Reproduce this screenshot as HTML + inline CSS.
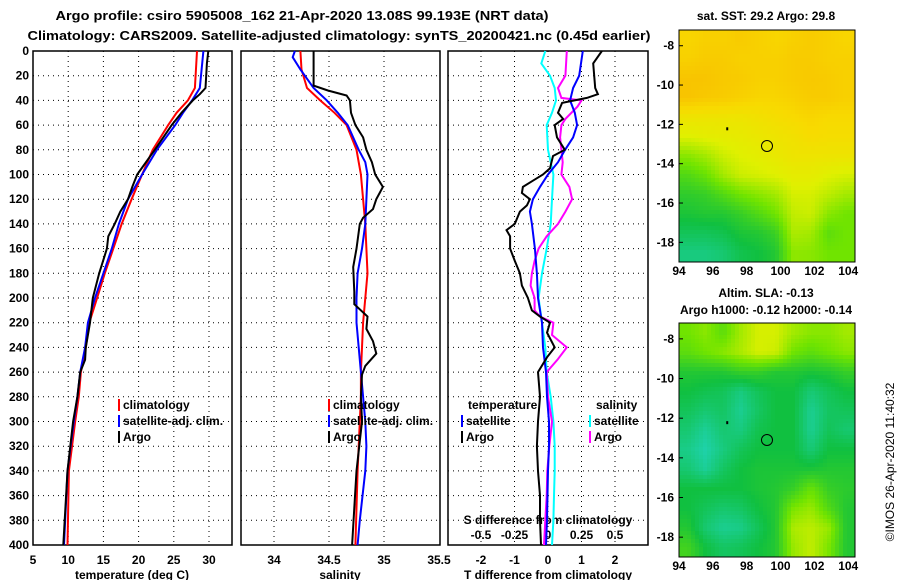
<!DOCTYPE html>
<html><head><meta charset="utf-8"><style>
html,body{margin:0;padding:0;background:#fff;}
svg{display:block;font-family:"Liberation Sans",sans-serif;font-weight:bold;}
</style></head><body>
<svg id="fig" width="900" height="580" viewBox="0 0 900 580" xmlns="http://www.w3.org/2000/svg">
<text x="302" y="20" font-size="13" text-anchor="middle" textLength="493" lengthAdjust="spacingAndGlyphs">Argo profile: csiro 5905008_162 21-Apr-2020 13.08S 99.193E (NRT data)</text>
<text x="339" y="40" font-size="13" text-anchor="middle" textLength="623" lengthAdjust="spacingAndGlyphs">Climatology: CARS2009. Satellite-adjusted climatology: synTS_20200421.nc (0.45d earlier)</text>
<g id="g"></g>
<text x="766" y="20" font-size="12" text-anchor="middle">sat. SST: 29.2 Argo: 29.8</text>
<text x="766" y="297" font-size="12" text-anchor="middle">Altim. SLA: -0.13</text>
<text x="766" y="314" font-size="12" text-anchor="middle">Argo h1000: -0.12 h2000: -0.14</text>
<text transform="translate(894,462) rotate(-90)" font-size="12" font-weight="normal" text-anchor="middle">©IMOS 26-Apr-2020 11:40:32</text>
</svg>
<script>
// ---- data ----
const depthTicks=[0,20,40,60,80,100,120,140,160,180,200,220,240,260,280,300,320,340,360,380,400];
const tempTicks=[5,10,15,20,25,30];
const salTicks=[34,34.5,35,35.5];
const salTickLabels=["34","34.5","35","35.5"];
const dtTicks=[-2,-1,0,1,2];
const dsTicks=[-0.5,-0.25,0,0.25,0.5];
const dsTickLabels=["-0.5","-0.25","0","0.25","0.5"];

const tClimDepth=[0,30,40,50,60,80,100,120,140,160,180,200,220,240,260,280,300,340,400];
const tClim=[28.3,28.0,27.0,25.4,24.2,22.0,20.5,19.0,17.6,16.4,15.2,14.1,13.0,12.5,11.8,11.5,11.0,10.1,9.9];
const tSatDepth=[0,30,40,50,60,80,100,120,140,160,180,200,220,240,260,280,300,340,400];
const tSat=[29.2,28.7,27.6,26.3,25.2,22.6,20.5,18.5,17.2,16.2,15.0,13.8,12.8,12.4,11.7,11.3,10.8,9.9,9.4];
const tArgoDepth=[0,10,30,35,40,50,60,80,100,110,120,130,140,150,160,180,200,220,240,250,260,280,300,340,400];
const tArgo=[29.9,29.7,29.5,28.7,27.7,26.1,24.7,22.3,19.8,19.1,18.5,17.4,16.6,15.7,15.5,14.4,13.5,13.1,12.5,12.4,11.7,11.3,10.7,9.9,9.3];

const sClimDepth=[0,15,30,40,50,60,80,100,120,140,160,180,200,220,240,260,280,300,340,400];
const sClim=[34.24,34.25,34.30,34.42,34.55,34.66,34.75,34.79,34.81,34.83,34.84,34.85,34.83,34.81,34.80,34.79,34.79,34.78,34.76,34.74];
const sSatDepth=[0,5,15,30,40,50,60,80,90,100,120,140,160,180,200,220,240,260,280,300,320,340,380,400];
const sSat=[34.19,34.17,34.24,34.36,34.48,34.58,34.67,34.77,34.83,34.85,34.84,34.83,34.80,34.76,34.75,34.75,34.77,34.79,34.81,34.83,34.84,34.83,34.78,34.76];
const sArgoDepth=[0,28,32,36,40,50,60,70,80,90,100,110,120,128,135,140,160,175,195,205,215,225,235,245,255,262,280,300,340,400];
const sArgo=[34.36,34.36,34.49,34.66,34.69,34.70,34.74,34.81,34.84,34.89,34.92,34.99,34.93,34.90,34.81,34.78,34.75,34.72,34.73,34.73,34.85,34.84,34.90,34.93,34.83,34.80,34.79,34.80,34.75,34.71];

const dsSatDepth=[0,10,20,30,40,50,60,80,100,120,140,160,180,200,220,240,260,280,300,320,340,360,380,400];
const dsSat=[-0.02,-0.05,0.015,0.05,0.06,0.03,-0.01,0.0,0.04,0.03,0.02,-0.01,-0.045,-0.07,-0.045,-0.02,-0.01,0.02,0.04,0.05,0.05,0.045,0.04,0.03];
const dsArgoDepth=[0,20,30,38,40,45,55,60,70,80,90,100,110,120,130,140,150,160,170,180,190,200,210,215,220,230,240,250,260,280,300,320,340,360,380,400];
const dsArgo=[0.14,0.13,0.075,0.1,0.25,0.22,0.13,0.1,0.09,0.1,0.11,0.1,0.16,0.18,0.13,0.075,-0.01,-0.07,-0.1,-0.12,-0.13,-0.1,-0.1,-0.06,0.04,0.03,0.14,0.07,-0.01,0.0,0.03,0.01,-0.005,-0.01,-0.02,-0.03];
const dtSatDepth=[0,20,30,40,50,60,70,80,90,100,110,120,130,140,160,180,200,220,240,260,280,300,320,340,380,400];
const dtSat=[1.04,0.93,0.75,0.66,0.8,0.87,0.75,0.51,0.3,0.0,-0.24,-0.45,-0.54,-0.48,-0.39,-0.33,-0.3,-0.18,-0.15,-0.06,-0.03,0.03,0.03,0.0,-0.03,-0.06];
const dtArgoDepth=[0,10,20,30,35,38,42,50,55,60,70,80,85,95,100,105,110,115,120,125,130,140,145,150,160,170,180,190,200,210,215,220,228,240,248,260,280,300,320,340,360,380,400];
const dtArgo=[1.61,1.35,1.38,1.41,1.49,1.16,0.42,0.3,0.45,0.2,0.27,0.5,0.15,0.06,-0.15,-0.45,-0.75,-0.78,-0.54,-0.63,-0.84,-0.99,-1.24,-1.13,-1.13,-0.99,-0.84,-0.78,-0.6,-0.48,-0.24,0.06,-0.03,0.2,-0.03,-0.3,-0.24,-0.3,-0.33,-0.3,-0.24,-0.24,-0.21];

// map grids (rows -7.5..-18.5 lat, cols 94.5..103.9 lon), normalized colour index 0..1
const sstGrid=[
[0.88,0.9,0.9,0.92,0.9,0.88,0.9,0.92,0.9,0.88],
[0.9,0.92,0.92,0.9,0.9,0.9,0.92,0.92,0.9,0.9],
[0.95,0.95,0.93,0.92,0.9,0.9,0.92,0.93,0.92,0.9],
[0.95,0.93,0.92,0.9,0.88,0.88,0.9,0.92,0.92,0.9],
[0.8,0.8,0.8,0.8,0.82,0.84,0.86,0.88,0.86,0.86],
[0.72,0.74,0.75,0.76,0.78,0.8,0.82,0.85,0.84,0.84],
[0.55,0.6,0.68,0.72,0.74,0.77,0.8,0.8,0.8,0.8],
[0.42,0.48,0.6,0.68,0.7,0.72,0.75,0.75,0.72,0.7],
[0.33,0.35,0.42,0.5,0.55,0.6,0.7,0.7,0.65,0.6],
[0.28,0.3,0.3,0.35,0.42,0.5,0.66,0.68,0.55,0.5],
[0.2,0.2,0.22,0.28,0.3,0.36,0.62,0.6,0.45,0.5],
[0.12,0.12,0.15,0.22,0.25,0.3,0.56,0.55,0.5,0.5]];
const slaGrid=[
[0.5,0.55,0.45,0.6,0.7,0.7,0.6,0.55,0.55,0.6],
[0.45,0.5,0.55,0.62,0.7,0.68,0.5,0.45,0.5,0.55],
[0.3,0.3,0.3,0.35,0.35,0.3,0.3,0.28,0.3,0.35],
[0.25,0.22,0.2,0.12,0.2,0.25,0.25,0.14,0.2,0.25],
[0.2,0.15,0.18,0.08,0.18,0.25,0.25,0.08,0.18,0.2],
[0.15,0.07,0.15,0.12,0.22,0.25,0.25,0.08,0.2,0.15],
[0.1,0.03,0.12,0.2,0.25,0.25,0.25,0.14,0.25,0.25],
[0.15,0.07,0.18,0.25,0.28,0.28,0.28,0.28,0.3,0.3],
[0.25,0.25,0.25,0.25,0.28,0.3,0.35,0.48,0.35,0.32],
[0.25,0.2,0.16,0.18,0.25,0.3,0.52,0.58,0.42,0.3],
[0.3,0.15,0.08,0.1,0.2,0.3,0.62,0.65,0.58,0.3],
[0.38,0.25,0.18,0.2,0.25,0.3,0.58,0.66,0.52,0.3]];
const latTicks=[-8,-10,-12,-14,-16,-18];
const lonTicks=[94,96,98,100,102,104];
const argoPos=[99.2,-13.1];

// ---- drawing ----
const NS="http://www.w3.org/2000/svg";
const G=document.getElementById('g');
function mk(tag,attrs,parent){const e=document.createElementNS(NS,tag);for(const k in attrs)e.setAttribute(k,attrs[k]);(parent||G).appendChild(e);return e;}
const TOP=51,BOT=545;
const yD=d=>TOP+(d/400)*(BOT-TOP);
const xT=v=>33+(v-5)*7.04;
const xS=v=>274+(v-34)*110;
const xDT=v=>548+v*33.5;
const xDS=v=>548+v*134;
const panels=[[33,232],[241,440],[448,648]];

panels.forEach((p,i)=>{
  const r=mk('rect',{x:p[0],y:TOP,width:p[1]-p[0],height:BOT-TOP,fill:'none',stroke:'#000','stroke-width':1.5});
  
  
  depthTicks.forEach(d=>{ if(d===0||d===400)return;
    const l=mk('line',{x1:p[0],x2:p[1],y1:yD(d),y2:yD(d),stroke:'#000','stroke-dasharray':'1 4'});
    
    
  });
});
depthTicks.forEach(d=>{
  const t=mk('text',{x:29,y:yD(d)+4,'font-size':12,'text-anchor':'end'});t.textContent=d;
  
  
});
function vgrid(vals,fx,p,labels,ly,name){
  vals.forEach((v,i)=>{const x=fx(v);
    if(x>p[0]+2&&x<p[1]-2){const l=mk('line',{x1:x,x2:x,y1:TOP,y2:BOT,stroke:'#000','stroke-dasharray':'1 4'});
      
      }
    const t=mk('text',{x:x,y:ly,'font-size':12,'text-anchor':'middle'});t.textContent=labels?labels[i]:v;
    
    
  });
}
vgrid(tempTicks,xT,panels[0],null,564,'temperature');
vgrid(salTicks,xS,panels[1],salTickLabels,564,'salinity');
vgrid(dtTicks,xDT,panels[2],null,564,'t-difference');
dsTicks.forEach((v,i)=>{const t=mk('text',{x:xDS(v),y:539,'font-size':12,'text-anchor':'middle'});t.textContent=dsTickLabels[i];
  
  });
function lbl(x,y,s,name,anchor,fill){const t=mk('text',{x:x,y:y,'font-size':12,'text-anchor':anchor||'start',fill:fill||'#000'});t.textContent=s;
  
  return t;}
lbl(132,579,'temperature (deg C)','temperature-axis-title','middle');
lbl(340,579,'salinity','salinity-axis-title','middle');
lbl(548,579,'T difference from climatology','t-difference-axis-title','middle');
lbl(548,524,'S difference from climatology','s-difference-axis-title','middle');

function series(depths,vals,fx,color,name){
  const pts=depths.map((d,i)=>fx(vals[i]).toFixed(1)+','+yD(d).toFixed(1)).join(' ');
  const pl=mk('polyline',{points:pts,fill:'none',stroke:color,'stroke-width':2,'stroke-linejoin':'miter'});
  
  
}
series(tClimDepth,tClim,xT,'#f00','temperature-climatology-line');
series(tSatDepth,tSat,xT,'#00f','temperature-satellite-line');
series(tArgoDepth,tArgo,xT,'#000','temperature-argo-line');
series(sClimDepth,sClim,xS,'#f00','salinity-climatology-line');
series(sSatDepth,sSat,xS,'#00f','salinity-satellite-line');
series(sArgoDepth,sArgo,xS,'#000','salinity-argo-line');
series(dsSatDepth,dsSat,xDS,'#0ff','s-diff-satellite-line');
series(dsArgoDepth,dsArgo,xDS,'#f0f','s-diff-argo-line');
series(dtSatDepth,dtSat,xDT,'#00f','t-diff-satellite-line');
series(dtArgoDepth,dtArgo,xDT,'#000','t-diff-argo-line');

function legend(x,y,color,s,name){
  const r=mk('rect',{x:x,y:y-10,width:2,height:12,fill:color});
  
  
  lbl(x+5,y,s,name);
}
legend(118,409,'#f00','climatology','legend-climatology-t');
legend(118,425,'#00f','satellite-adj. clim.','legend-satellite-t');
legend(118,441,'#000','Argo','legend-argo-t');
legend(328,409,'#f00','climatology','legend-climatology-s');
legend(328,425,'#00f','satellite-adj. clim.','legend-satellite-s');
legend(328,441,'#000','Argo','legend-argo-s');
lbl(468,409,'temperature','legend-temperature-heading');
lbl(596,409,'salinity','legend-salinity-heading');
legend(461,425,'#00f','satellite','legend-t-satellite');
legend(461,441,'#000','Argo','legend-t-argo');
legend(589,425,'#0ff','satellite','legend-s-satellite');
legend(589,441,'#f0f','Argo','legend-s-argo');

// maps
const stops=[[0,[32,212,184]],[0.25,[16,192,64]],[0.5,[112,228,0]],[0.72,[224,240,0]],[0.86,[248,218,0]],[1,[248,184,0]]];
function cmap(v){v=Math.max(0,Math.min(1,v));for(let i=1;i<stops.length;i++){if(v<=stops[i][0]){const a=stops[i-1],b=stops[i],t=(v-a[0])/(b[0]-a[0]);return 'rgb('+a[1].map((c,k)=>Math.round(c+(b[1][k]-c)*t)).join(',')+')';}}return 'rgb(248,184,0)';}
function drawMap(grid,top,bot,name){
  const L=679,R=855,lon0=94,lon1=104.4,lat0=-7.2,lat1=-19.0;
  const X=lo=>L+(lo-lon0)/(lon1-lon0)*(R-L);
  const Y=la=>top+(la-lat0)/(lat1-lat0)*(bot-top);
  const gm=mk('g',{});
  
  
  const nr=grid.length,nc=grid[0].length,cs=4;
  for(let py=top;py<bot;py+=cs){for(let px=L;px<R;px+=cs){
    const fr=Math.max(0,Math.min(nr-1,((py+cs/2-top)/(bot-top))*nr-0.5));
    const fc=Math.max(0,Math.min(nc-1,((px+cs/2-L)/(R-L))*nc-0.5));
    const r0=Math.floor(fr),c0=Math.floor(fc),r1=Math.min(nr-1,r0+1),c1=Math.min(nc-1,c0+1),tr=fr-r0,tc=fc-c0;
    const v=grid[r0][c0]*(1-tr)*(1-tc)+grid[r0][c1]*(1-tr)*tc+grid[r1][c0]*tr*(1-tc)+grid[r1][c1]*tr*tc;
    mk('rect',{x:px,y:py,width:Math.min(cs,R-px),height:Math.min(cs,bot-py),fill:cmap(v)},gm);
  }}
  mk('rect',{x:L,y:top,width:R-L,height:bot-top,fill:'none',stroke:'#000','stroke-width':1},gm);
  latTicks.forEach(la=>{const t=mk('text',{x:674,y:Y(la)+4,'font-size':12,'text-anchor':'end'});t.textContent=la;
    
    
    mk('line',{x1:L,x2:L+4,y1:Y(la),y2:Y(la),stroke:'#000'},gm);});
  lonTicks.forEach(lo=>{const t=mk('text',{x:X(lo),y:bot+13,'font-size':12,'text-anchor':'middle'});t.textContent=lo;
    
    });
  const c=mk('circle',{cx:X(argoPos[0]),cy:Y(argoPos[1]),r:5.5,fill:'none',stroke:'#000','stroke-width':1});
  
  
  mk('rect',{x:X(96.85)-1,y:Y(-12.2)-1,width:2,height:3,fill:'#000'},gm);
}
drawMap(sstGrid,30,262,'sst-map');
drawMap(slaGrid,323,557,'sla-map');
</script>
</body></html>
